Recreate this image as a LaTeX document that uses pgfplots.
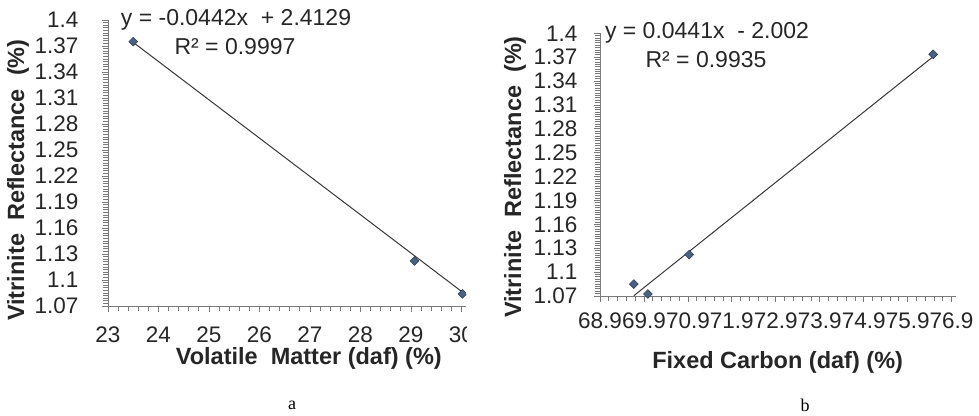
\documentclass[border=0pt]{standalone}
\usepackage{pgfplots}
\pgfplotsset{compat=1.18}
\usepackage{fontspec}
\setmainfont{Liberation Sans}
\newfontfamily\capfont{Liberation Serif}
\definecolor{axgray}{HTML}{7A7A7A}
\definecolor{mkfill}{HTML}{4A6282}
\definecolor{mkdraw}{HTML}{2D3E52}
\definecolor{trend}{HTML}{383838}
\pgfplotsset{
  common/.style={
    scale only axis,
    axis lines*=left,
    axis line style={draw=axgray, line width=0.9pt},
    tick style={draw=axgray, line width=0.8pt},
    tick align=outside,
    major tick length=6pt,
    minor tick length=5pt,
    minor y tick num=9,
    minor x tick num=4,
    ymin=1.07, ymax=1.4,
    ytick={1.07,1.1,1.13,1.16,1.19,1.22,1.25,1.28,1.31,1.34,1.37,1.4},
    yticklabels={1.07,1.1,1.13,1.16,1.19,1.22,1.25,1.28,1.31,1.34,1.37,1.4},
    ticklabel style={font=\fontsize{22.5}{24}\selectfont, text=black!85},
    label style={font=\bfseries\fontsize{23.5}{26}\selectfont, text=black!85},
    /pgf/number format/assume math mode=true,
    clip=true,
  },
  pts/.style={only marks, mark=square*, mark size=3.1pt,
    mark options={rotate=45, fill=mkfill, draw=mkdraw, line width=0.6pt}},
  tl/.style={no marks, draw=trend, line width=1.0pt},
}
\begin{document}
\begin{tikzpicture}
\path[use as bounding box] (0pt,0pt) rectangle (979pt,415pt);
\begin{scope}
\clip (0pt,0pt) rectangle (466pt,415pt);
\begin{axis}[common,
  at={(108pt,109pt)}, anchor=south west,
  width=358pt, height=286pt,
  xmin=23, xmax=30.09,
  xtick={23,24,25,26,27,28,29,30},
  xticklabels={23,24,25,26,27,28,29,30},
  yticklabel style={xshift=-20pt},
  xticklabel style={yshift=-11pt},
  xlabel={Volatile\ \ Matter (daf) (\%)},
  ylabel={Vitrinite\ \ Reflectance\ \ (\%)},
  xlabel style={at={(axis description cs:0.561,-0.182)}, anchor=center},
  ylabel style={at={(axis description cs:-0.251,0.44)}, anchor=center, rotate=0},
]
\addplot[tl] coordinates {(23.5,1.3742) (30.33,1.0723)};
\addplot[pts] coordinates {(23.5,1.375) (29.07,1.122) (30.02,1.084)};
\end{axis}
\end{scope}
\begin{axis}[common,
  at={(600pt,119pt)}, anchor=south west,
  width=356pt, height=262.7pt,
  xmin=68.9, xmax=77.0,
  xtick={68.9,69.9,70.9,71.9,72.9,73.9,74.9,75.9,76.9},
  xticklabels={68.9,69.9,70.9,71.9,72.9,73.9,74.9,75.9,76.9},
  yticklabel style={xshift=-13pt},
  xticklabel style={yshift=-7pt},
  xlabel={Fixed Carbon (daf) (\%)},
  ylabel={Vitrinite\ \ Reflectance\ \ (\%)},
  xlabel style={at={(axis description cs:0.499,-0.251)}, anchor=center},
  ylabel style={at={(axis description cs:-0.239,0.453)}, anchor=center, rotate=0},
]
\addplot[tl] coordinates {(69.67,1.0704) (76.48,1.3707)};
\addplot[pts] coordinates {(69.67,1.085) (69.99,1.0725) (70.93,1.122) (76.48,1.3736)};
\end{axis}
\node[font=\fontsize{23}{25}\selectfont, text=black!85] at (236pt,395pt) {y = -0.0442x\ \ + 2.4129};
\node[font=\fontsize{23}{25}\selectfont, text=black!85] at (235pt,368pt) {R² = 0.9997};
\node[font=\fontsize{23}{25}\selectfont, text=black!85] at (707pt,382pt) {y = 0.0441x\ \ - 2.002};
\node[font=\fontsize{23}{25}\selectfont, text=black!85] at (706pt,355pt) {R² = 0.9935};
\node[font=\capfont\fontsize{18}{20}\selectfont] at (292pt,10pt) {a};
\node[font=\capfont\fontsize{18}{20}\selectfont] at (805pt,10pt) {b};
\end{tikzpicture}
\end{document}
